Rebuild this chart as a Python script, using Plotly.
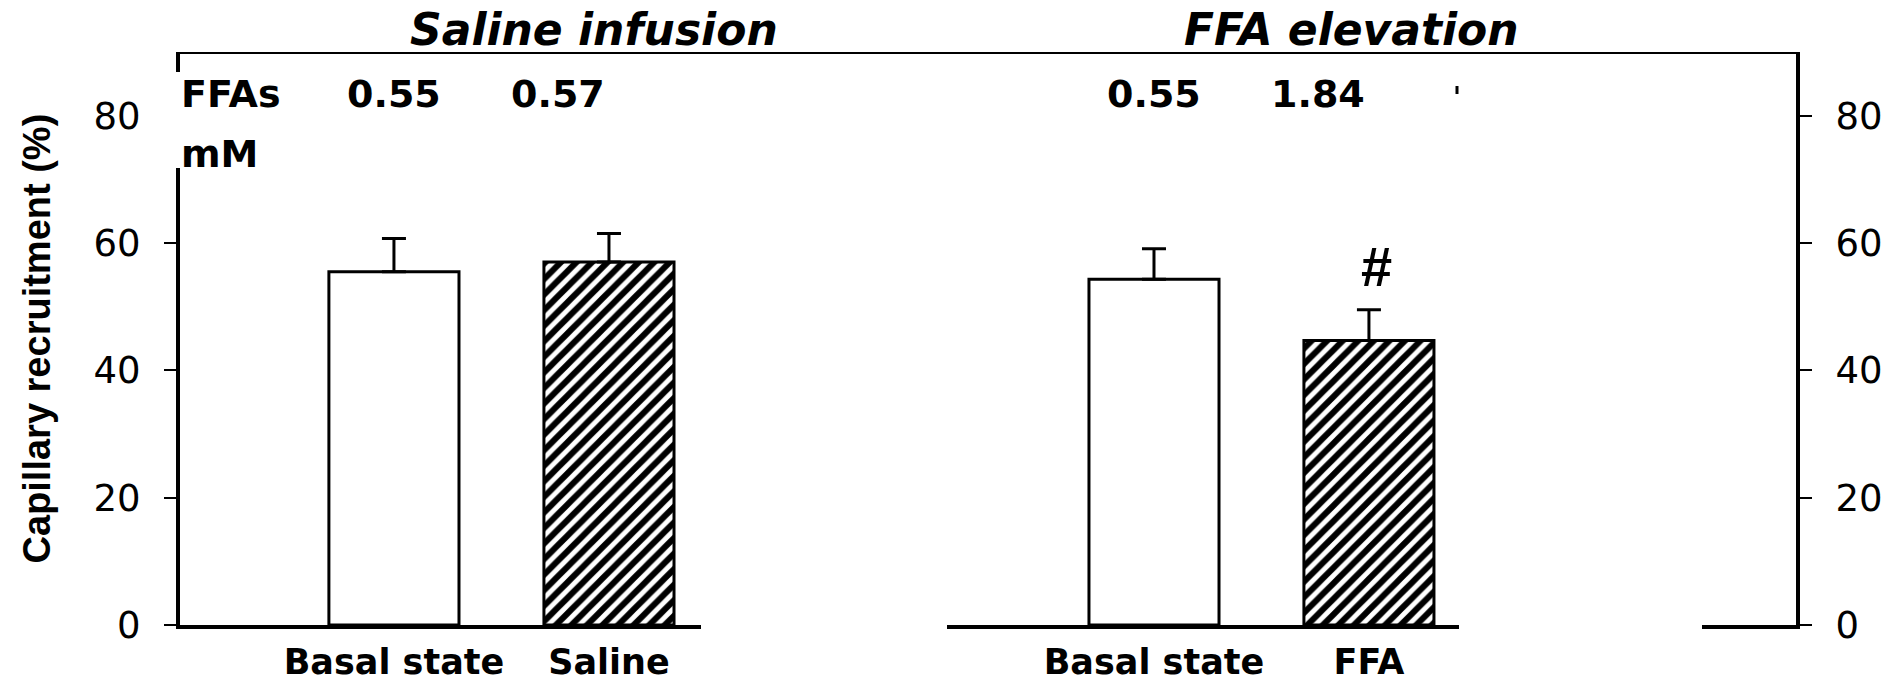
import plotly.graph_objects as go

# Capillary recruitment (%), mean and SEM, for each condition
saline_groups = ["Basal state", "Saline"]
saline_values = [55.5, 57.0]
saline_sem = [5.2, 4.5]
saline_ffa_mM = ["0.55", "0.57"]

ffa_groups = ["Basal state", "FFA"]
ffa_values = [54.3, 44.7]
ffa_sem = [4.8, 4.8]
ffa_ffa_mM = ["0.55", "1.84"]

panel_titles = ["Saline infusion", "FFA elevation"]
bar_patterns = ["", "/"]
y_ticks = [0, 20, 40, 60, 80]
y_title = "Capillary recruitment (%)"
ffa_row_label = ["FFAs", "mM"]
significance_mark = "#"

# ---- page geometry (pixels) ----
W, H = 1890, 681
ML, MR, MT, MB = 180, 94, 52, 56
PW = W - ML - MR


def fx(px):
    """Horizontal page pixel -> paper fraction."""
    return (px - ML) / PW


Y_MAX = 90
PX_PER_UNIT = (H - MT - MB) / Y_MAX


def yv(px):
    """Vertical page pixel -> y data value."""
    return (H - MB - px) / PX_PER_UNIT


TICK_FONT = dict(family="DejaVu Sans", size=37, color="black")
LABEL_FONT = dict(family="DejaVu Sans", size=35, color="black", weight="bold")
ROW_FONT = dict(family="DejaVu Sans", size=38, color="black", weight="bold")
TITLE_FONT = dict(family="DejaVu Sans", size=44, color="black", weight="bold", style="italic")

bar_line = dict(color="black", width=3)
err_style = dict(type="data", symmetric=False, thickness=3, width=12, color="black")
pattern = dict(shape=bar_patterns, fillmode="replace", fgcolor="black", bgcolor="white",
               size=11, solidity=0.55)

fig = go.Figure()
fig.add_trace(go.Bar(
    x=saline_groups, y=saline_values, xaxis="x", yaxis="y", width=0.605,
    marker=dict(color="white", line=bar_line, pattern=pattern),
    error_y=dict(array=saline_sem, arrayminus=[0] * len(saline_sem), **err_style),
    showlegend=False, hoverinfo="x+y",
))
fig.add_trace(go.Bar(
    x=ffa_groups, y=ffa_values, xaxis="x2", yaxis="y", width=0.605,
    marker=dict(color="white", line=bar_line, pattern=pattern),
    error_y=dict(array=ffa_sem, arrayminus=[0] * len(ffa_sem), **err_style),
    showlegend=False, hoverinfo="x+y",
))
# the right-hand frame (axis on the right) carries no data
fig.add_trace(go.Scatter(x=[], y=[], xaxis="x3", yaxis="y2", showlegend=False, hoverinfo="skip"))

axis_line = dict(showline=True, linecolor="black", linewidth=4, showgrid=False, zeroline=False,
                 automargin=False)
xcat = dict(type="category", ticks="", tickfont=LABEL_FONT, ticklabelstandoff=3, **axis_line)
ycommon = dict(range=[0, Y_MAX], tickvals=y_ticks, ticks="outside", ticklen=12, tickwidth=2,
               tickcolor="black", tickfont=TICK_FONT, ticklabelstandoff=16, **axis_line)

fig.update_layout(
    width=W, height=H,
    margin=dict(l=ML, r=MR, t=MT, b=MB, pad=0, autoexpand=False),
    paper_bgcolor="white", plot_bgcolor="white",
    xaxis=dict(domain=[0, fx(701)], range=[-0.995, 1.428], anchor="y", **xcat),
    xaxis2=dict(domain=[fx(947), fx(1459)], range=[-0.963, 1.419], anchor="y", **xcat),
    xaxis3=dict(domain=[fx(1702), 1], range=[0, 1], anchor="y2", showticklabels=False, ticks="",
                **axis_line),
    yaxis=dict(anchor="x", side="left", **ycommon),
    yaxis2=dict(anchor="x3", side="right", **ycommon),
)

shapes = [
    # frame line across the top of both panels
    dict(type="line", xref="paper", yref="y", x0=fx(176), x1=fx(1800), y0=Y_MAX, y1=Y_MAX,
         line=dict(color="black", width=4), layer="above"),
    # white box behind the FFA row label, interrupting the left axis
    dict(type="rect", xref="paper", xsizemode="pixel", xanchor=0, x0=-16, x1=6,
         yref="y", y0=yv(168), y1=yv(72), fillcolor="white", line=dict(width=0), layer="above"),
    # small stray stroke at the end of the FFA row
    dict(type="line", xref="paper", yref="y", x0=fx(1457), x1=fx(1457), y0=yv(94), y1=yv(86),
         line=dict(color="black", width=3), layer="above"),
]
fig.update_layout(shapes=shapes)

ann = []
# panel titles
for title, cx in zip(panel_titles, [594, 1351]):
    ann.append(dict(text=title, xref="paper", yref="paper", x=fx(cx), y=1, yshift=23,
                    xanchor="center", yanchor="middle", showarrow=False, font=TITLE_FONT))
# FFA row label
ann.append(dict(text=ffa_row_label[0], xref="paper", yref="y", x=0, y=yv(94), xshift=-1,
                xanchor="left", yanchor="middle", showarrow=False, font=ROW_FONT))
ann.append(dict(text=ffa_row_label[1], xref="paper", yref="y", x=0, y=yv(154), xshift=-1,
                xanchor="left", yanchor="middle", showarrow=False, font=ROW_FONT))
# FFA concentrations above each bar
for xa, groups, conc in [("x", saline_groups, saline_ffa_mM), ("x2", ffa_groups, ffa_ffa_mM)]:
    for i, (g, c) in enumerate(zip(groups, conc)):
        ann.append(dict(text=c, xref=xa, yref="y", x=g, y=yv(94), xshift=[0, -51][i],
                        xanchor="center", yanchor="middle", showarrow=False, font=ROW_FONT))
# significance mark above the FFA bar
ann.append(dict(text=significance_mark, xref="x2", yref="y", x=ffa_groups[1],
                y=ffa_values[1] + ffa_sem[1], yshift=10, xshift=8, xanchor="center",
                yanchor="bottom", showarrow=False,
                font=dict(family="Liberation Sans", size=56, color="black", weight="bold")))
# y axis title
ann.append(dict(text=y_title, xref="paper", yref="paper", x=fx(36), y=0.5, textangle=-90,
                xanchor="center", yanchor="middle", showarrow=False,
                font=dict(family="Liberation Sans", size=38, color="black", weight="bold")))
fig.update_layout(annotations=ann)

fig.write_html("out.html")
